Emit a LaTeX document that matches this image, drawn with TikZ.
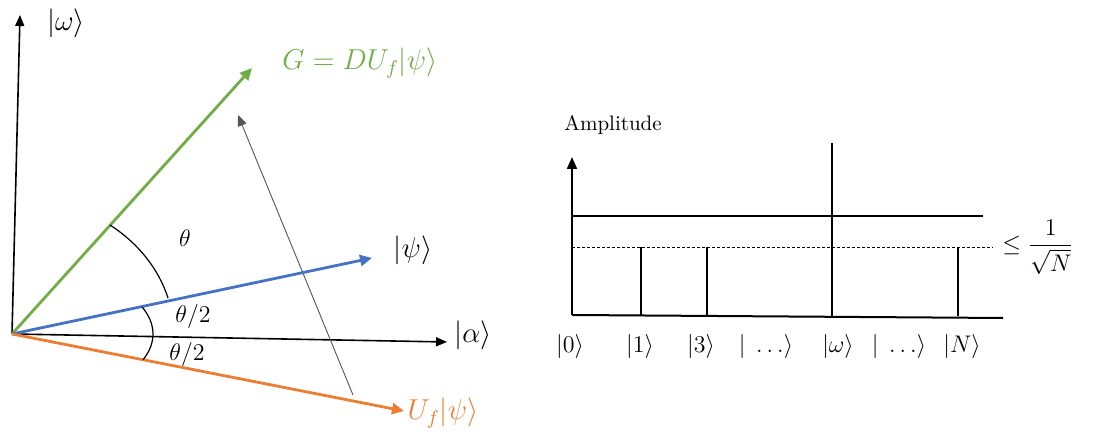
\documentclass[tikz,border=0pt]{standalone}
\usepackage{amsmath}
\usepackage{amssymb}
\usepackage{tikz}
\usetikzlibrary{arrows.meta}
\definecolor{grvGreen}{HTML}{70AD47}
\definecolor{grvBlue}{HTML}{4472C4}
\definecolor{grvOrange}{HTML}{ED7D31}
\definecolor{grvGray}{HTML}{555555}
\tikzset{
  axisArrow/.style={
    -{Triangle[length=5.5pt,width=4.5pt]},
    line width=0.8pt,
    draw=black
  },
  vecArrow/.style={
    -{Triangle[length=6pt,width=5.5pt]},
    line width=1.4pt
  },
  reflArrow/.style={
    -{Triangle[length=5.5pt,width=4.5pt]},
    line width=0.45pt,
    draw=grvGray
  },
  angleArc/.style={
    line width=0.6pt,
    draw=black
  },
  ketLabel/.style={
    font=\fontsize{14}{16}\selectfont,
    inner sep=1pt
  },
  chartAxis/.style={
    -{Triangle[length=6pt,width=5pt]},
    line width=1pt
  },
  chartLine/.style={
    line width=1pt
  },
  levelDash/.style={
    line width=0.4pt,
    dash pattern=on 1.5pt off 1pt
  },
  chartKet/.style={
    font=\fontsize{13}{15}\selectfont,
    inner sep=1pt
  }
}

\begin{document}
\begin{tikzpicture}[x=0.5pt, y=0.5pt]
  \useasboundingbox (0,0) rectangle (1109,443);

  \coordinate (O) at (12,109);
  \coordinate (omegaTip) at (20,428);
  \coordinate (alphaTip) at (447,101);
  \coordinate (gTip) at (252,375);
  \coordinate (psiTip) at (372,185);
  \coordinate (ufTip) at (404,32);
  \coordinate (reflFoot) at (353,48);
  \coordinate (reflTip) at (238,328);

  \node[ketLabel] (omegaLbl) at (66,420) {$|\omega\rangle$};
  \node[ketLabel] (alphaLbl) at (473,108) {$|\alpha\rangle$};
  \node[ketLabel, text=grvGreen] (gLbl) at (360,380) {$G = DU_f|\psi\rangle$};
  \node[ketLabel] (psiLbl) at (413,193) {$|\psi\rangle$};
  \node[ketLabel, text=grvOrange] (ufLbl) at (443,30) {$U_f|\psi\rangle$};

  \draw[axisArrow] (O) -- (omegaTip);
  \draw[axisArrow] (O) -- (alphaTip);
  \draw[reflArrow] (reflFoot) -- (reflTip);
  \draw[vecArrow, grvGreen] (O) -- (gTip);
  \draw[vecArrow, grvBlue] (O) -- (psiTip);
  \draw[vecArrow, grvOrange] (O) -- (ufTip);

  \draw[angleArc] (O) ++(52.7:161.7 and 137)
    arc[start angle=52.7, end angle=15.2, x radius=161.7, y radius=137];
  \draw[angleArc] (O) ++(22.8:141 and 70)
    arc[start angle=22.8, end angle=-21.5, x radius=141, y radius=70];
  \node[ketLabel, font=\fontsize{12}{14}\selectfont] (thetaLbl) at (185,205) {$\theta$};
  \node[ketLabel, font=\fontsize{12}{14}\selectfont] (halfUp) at (193,126) {$\theta/2$};
  \node[ketLabel, font=\fontsize{12}{14}\selectfont] (halfDown) at (187,88) {$\theta/2$};

  \coordinate (ampBase) at (572,128);
  \coordinate (ampTop) at (572,286);
  \coordinate (baseEnd) at (1003,125);
  \coordinate (upperStart) at (572,227);
  \coordinate (upperEnd) at (983,227);
  \coordinate (dashStart) at (572,196);
  \coordinate (dashEnd) at (993,196);

  \node[font=\fontsize{10.5}{12}\selectfont] (ampLbl) at (613,318) {Amplitude};
  \draw[chartAxis] (ampBase) -- (ampTop);
  \draw[chartLine] (ampBase) -- (baseEnd);
  \draw[chartLine] (upperStart) -- (upperEnd);
  \draw[levelDash] (dashStart) -- (dashEnd);
  \node[chartKet, anchor=west] (boundLbl) at (1000,196) {$\le \dfrac{1}{\sqrt{N}}$};

  \foreach \x/\t in {641/196, 707/196, 832/300, 958/196} {
    \draw[chartLine] (\x,126.5) -- (\x,\t);
  }

  \foreach \n/\x/\k in {zero/570/0, one/640/1, three/701/3, dotsA/766/\;\ldots,
      omega/838/\omega, dotsB/899/\;\ldots, enN/962/N} {
    \node[chartKet] (k\n) at (\x,96) {$|\k\rangle$};
  }
\end{tikzpicture}
\end{document}
